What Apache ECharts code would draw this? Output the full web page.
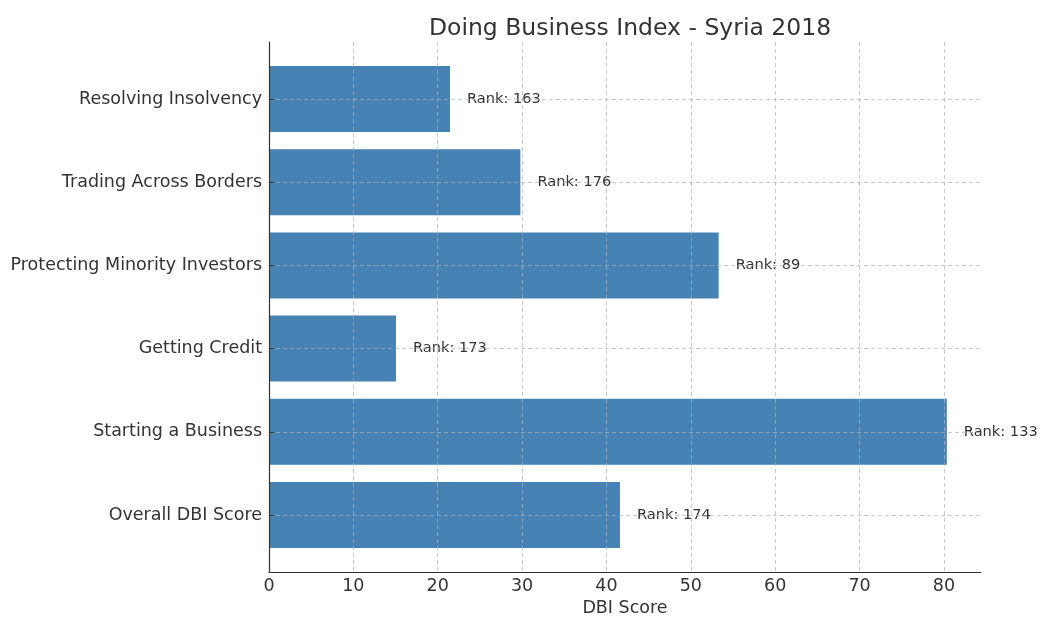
<!DOCTYPE html>
<html>
<head>
<meta charset="utf-8">
<script src="https://cdn.jsdelivr.net/npm/echarts@6/dist/echarts.min.js"></script>
<style>
  html, body { margin: 0; padding: 0; background: #fff; }
  #chart { width: 1042px; height: 617px; }
</style>
</head>
<body>
<div id="chart"></div>
<script>
// bottom to top, as in the picture
const categories = [
  'Overall DBI Score',
  'Starting a Business',
  'Getting Credit',
  'Protecting Minority Investors',
  'Trading Across Borders',
  'Resolving Insolvency'
]
const scores = [41.6, 80.35, 15.05, 53.3, 29.8, 21.45]
const ranks = [174, 133, 173, 89, 176, 163]
const xTicks = [0, 10, 20, 30, 40, 50, 60, 70, 80]

const font = 'DejaVu Sans'
const ink = '#333'
const dash = { color: '#b0b0b0', opacity: 0.7, type: [4, 3], width: 1 }

const el = document.getElementById('chart')
const chart = echarts.init(el, null, { renderer: 'canvas' })

const option = {
  animation: false,
  backgroundColor: '#fff',
  title: {
    text: 'Doing Business Index - Syria 2018',
    left: 625,
    textAlign: 'center',
    top: 12,
    textStyle: { fontFamily: font, fontSize: 23.5, fontWeight: 'normal', color: ink }
  },
  grid: [
    // frame: spines, x ticks, vertical grid
    { left: 269, right: 61, top: 42, bottom: 45, outerBoundsMode: 'none', containLabel: false },
    // bars: categories from first to last center
    { left: 269, right: 61, top: 99, bottom: 102, outerBoundsMode: 'none', containLabel: false }
  ],
  xAxis: [
    {
      gridIndex: 0,
      type: 'value',
      min: 0,
      max: 84.4,
      interval: 10,
      z: 5,
      name: 'DBI Score',
      nameLocation: 'middle',
      nameGap: 27,
      nameTextStyle: { fontFamily: font, fontSize: 17.5, color: ink },
      axisLine: { show: true, onZero: false, lineStyle: { color: ink, width: 1.2 } },
      axisTick: { show: false },
      axisLabel: {
        fontFamily: font, fontSize: 17.5, color: ink, margin: 5,
        customValues: xTicks
      },
      splitLine: { show: true, showMaxLine: false, lineStyle: dash }
    },
    {
      gridIndex: 1,
      type: 'value',
      min: 0,
      max: 84.4,
      show: false
    }
  ],
  yAxis: [
    {
      gridIndex: 0,
      type: 'value',
      min: 0,
      max: 1,
      z: 5,
      axisLine: { show: true, lineStyle: { color: ink, width: 1.2 } },
      axisTick: { show: false },
      axisLabel: { show: false },
      splitLine: { show: false }
    },
    {
      gridIndex: 1,
      type: 'category',
      data: categories,
      boundaryGap: false,
      z: 5,
      axisLine: { show: false },
      axisTick: { show: true, inside: true, length: 5, lineStyle: { color: ink } },
      axisLabel: { fontFamily: font, fontSize: 17.5, color: ink, margin: 7, padding: [5, 0, 0, 0] },
      splitLine: { show: true, showMinLine: true, showMaxLine: true, lineStyle: dash }
    }
  ],
  series: [
    {
      name: 'DBI Score',
      type: 'bar',
      xAxisIndex: 1,
      yAxisIndex: 1,
      barWidth: 66,
      clip: false,
      itemStyle: { color: '#4682b4' },
      label: {
        show: true,
        position: 'right',
        distance: 17,
        fontFamily: font,
        fontSize: 14.6,
        color: ink,
        formatter: p => 'Rank: ' + ranks[p.dataIndex]
      },
      data: scores
    }
  ]
}

chart.setOption(option)
</script>
</body>
</html>
